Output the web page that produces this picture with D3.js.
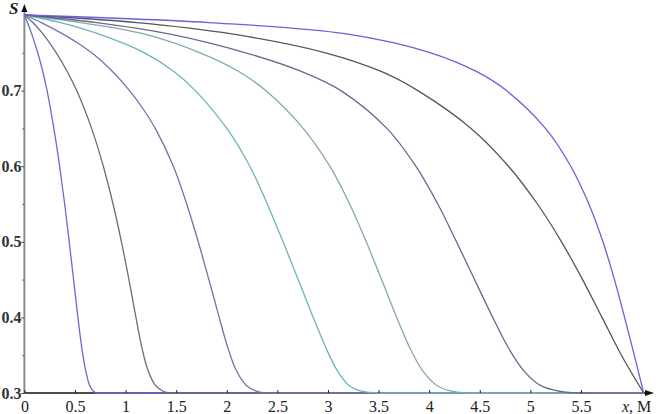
<!DOCTYPE html>
<html>
<head>
<meta charset="utf-8">
<script src="https://cdn.jsdelivr.net/npm/d3@7"></script>
<style>
  body { margin: 0; background: #fff; }
</style>
</head>
<body>
<svg id="chart"></svg>
<script>
// saturation levels used for most curves
const sLevels = [0.8, 0.79, 0.775, 0.75, 0.725, 0.7, 0.65, 0.6, 0.55, 0.5, 0.45, 0.4, 0.36, 0.33, 0.31, 0.302, 0.3];

// curves s(x): x values (m) read at the saturation levels
const c1x = [0, 0.03, 0.072, 0.132, 0.182, 0.224, 0.291, 0.348, 0.398, 0.443, 0.486, 0.529, 0.567, 0.605, 0.645, 0.685, 0.72];
const c2x = [0, 0.083, 0.183, 0.315, 0.424, 0.517, 0.664, 0.78, 0.876, 0.959, 1.033, 1.102, 1.161, 1.221, 1.295, 1.375, 1.44];
const c3x = [0, 0.167, 0.338, 0.526, 0.684, 0.859, 1.039, 1.172, 1.293, 1.472, 1.604, 1.718, 1.823, 1.925, 2.01, 2.093, 2.193, 2.3, 2.39];
const c3s = [0.8, 0.79, 0.778, 0.763, 0.748, 0.727, 0.7, 0.676, 0.65, 0.6, 0.55, 0.5, 0.45, 0.4, 0.36, 0.33, 0.31, 0.302, 0.3];
const c4x = [0, 0.357, 0.732, 1.187, 1.481, 1.689, 2.0, 2.228, 2.4, 2.556, 2.705, 2.854, 2.979, 3.09, 3.208, 3.341, 3.5];
const c5x = [0, 0.556, 1.181, 1.737, 2.122, 2.385, 2.755, 3.018, 3.214, 3.378, 3.53, 3.679, 3.808, 3.933, 4.076, 4.236, 4.5];
const c6x = [0, 0.714, 1.428, 2.186, 2.742, 3.127, 3.582, 3.868, 4.085, 4.27, 4.449, 4.628, 4.782, 4.932, 5.099, 5.299, 5.59];
const c7x = [0, 1.111, 2.049, 2.975, 3.531, 3.888, 4.414, 4.784, 5.07, 5.308, 5.516, 5.708, 5.9, 6.12];
const c7s = [0.8, 0.79, 0.775, 0.75, 0.725, 0.7, 0.65, 0.6, 0.55, 0.5, 0.45, 0.4, 0.35, 0.3];
const c8x = [0, 1.82, 3.182, 4.015, 4.47, 4.764, 5.149, 5.399, 5.578, 5.717, 5.831, 5.931, 6.027, 6.12];
const c8s = c7s;

const xTicks = [0, 0.5, 1, 1.5, 2, 2.5, 3, 3.5, 4, 4.5, 5, 5.5];
const yTicks = [0.3, 0.4, 0.5, 0.6, 0.7];
const yMinor = [0.35, 0.45, 0.55, 0.65, 0.75];

const curves = [
  { xs: c1x, ss: sLevels, color: "#6a6ad4" },
  { xs: c2x, ss: sLevels, color: "#6c6c7e" },
  { xs: c3x, ss: c3s, color: "#7472aa" },
  { xs: c4x, ss: sLevels, color: "#6cb4b8" },
  { xs: c5x, ss: sLevels, color: "#82a8b0" },
  { xs: c6x, ss: sLevels, color: "#6a6890" },
  { xs: c7x, ss: c7s, color: "#55555e" },
  { xs: c8x, ss: c8s, color: "#6464d8" }
];
const xEnd = c8x[c8x.length - 1];

const FONT = "'Liberation Serif', 'Times New Roman', 'DejaVu Serif', serif";
const W = 671, H = 414;
const svg = d3.select("#chart").attr("width", W).attr("height", H);

const x = d3.scaleLinear().domain([0, 6.2]).range([24.4, 651.8]);
const y = d3.scaleLinear().domain([0.3, 0.8]).range([393, 15]);

// y axis (grey line with arrow)
svg.append("line")
  .attr("x1", x(0)).attr("x2", x(0))
  .attr("y1", y(0.3)).attr("y2", 10)
  .attr("stroke", "#8c8c8c").attr("stroke-width", 2);

const yAxis = svg.append("g")
  .attr("transform", "translate(" + x(0) + ",0)")
  .call(d3.axisLeft(y).tickValues(yTicks).tickSize(3).tickFormat(d3.format(".1f")));
yAxis.select(".domain").remove();
yAxis.attr("font-family", FONT);
yAxis.selectAll("line").attr("stroke", "#444");
yAxis.selectAll("text")
  .attr("x", -3)
  .attr("font-family", FONT)
  .attr("font-size", 16).attr("font-weight", "bold").attr("fill", "#333");

const yAxisMinor = svg.append("g")
  .attr("transform", "translate(" + x(0) + ",0)")
  .call(d3.axisLeft(y).tickValues(yMinor).tickSize(2).tickFormat(""));
yAxisMinor.select(".domain").remove();
yAxisMinor.selectAll("line").attr("stroke", "#555");

// curves
const line = d3.line()
  .x((d) => x(d[0]))
  .y((d) => y(d[1]))
  .curve(d3.curveCatmullRom.alpha(0.5));
const flat = d3.line()
  .x((d) => x(d[0]))
  .y((d) => y(d[1]));

// x axis line
svg.append("line")
  .attr("x1", x(0)).attr("x2", 648)
  .attr("y1", y(0.3)).attr("y2", y(0.3))
  .attr("stroke", "#111").attr("stroke-width", 1.5);

curves.forEach(function (c) {
  const pts = c.xs.map((v, i) => [v, c.ss[i]]);
  const last = pts[pts.length - 1];
  svg.append("path")
    .datum(pts)
    .attr("d", line)
    .attr("fill", "none")
    .attr("stroke", c.color)
    .attr("stroke-width", 1.3);
  if (last[0] < xEnd) {
    svg.append("path")
      .datum([last, [xEnd, last[1]]])
      .attr("d", flat)
      .attr("fill", "none")
      .attr("stroke", c.color)
      .attr("stroke-width", 1.3);
  }
});

const xAxis = svg.append("g")
  .attr("transform", "translate(0," + y(0.3) + ")")
  .call(d3.axisBottom(x).tickValues(xTicks).tickSizeInner(-3).tickSizeOuter(0).tickFormat((d) => String(d)));
xAxis.select(".domain").remove();
xAxis.attr("font-family", FONT);
xAxis.selectAll("line").attr("stroke", "#222");
xAxis.selectAll("text")
  .attr("y", 19).attr("dy", null)
  .attr("font-family", FONT)
  .attr("font-size", 16).attr("fill", "#222");

// arrows
svg.append("path")
  .attr("d", "M" + (x(0) - 3) + ",12 L" + (x(0) + 3) + ",12 L" + x(0) + ",4 Z")
  .attr("fill", "#111");
svg.append("path")
  .attr("d", "M645,390 L645,396 L654," + y(0.3) + " Z")
  .attr("fill", "#111");

// axis titles
svg.append("text")
  .attr("x", 9).attr("y", 14)
  .attr("font-family", FONT)
  .attr("font-size", 17).attr("font-style", "italic").attr("font-weight", "bold")
  .attr("fill", "#222")
  .text("S");

const xt = svg.append("text")
  .attr("x", 622).attr("y", 412)
  .attr("font-family", FONT)
  .attr("font-size", 16).attr("fill", "#222");
xt.append("tspan").attr("font-style", "italic").text("x");
xt.append("tspan").text(", M");
</script>
</body>
</html>
